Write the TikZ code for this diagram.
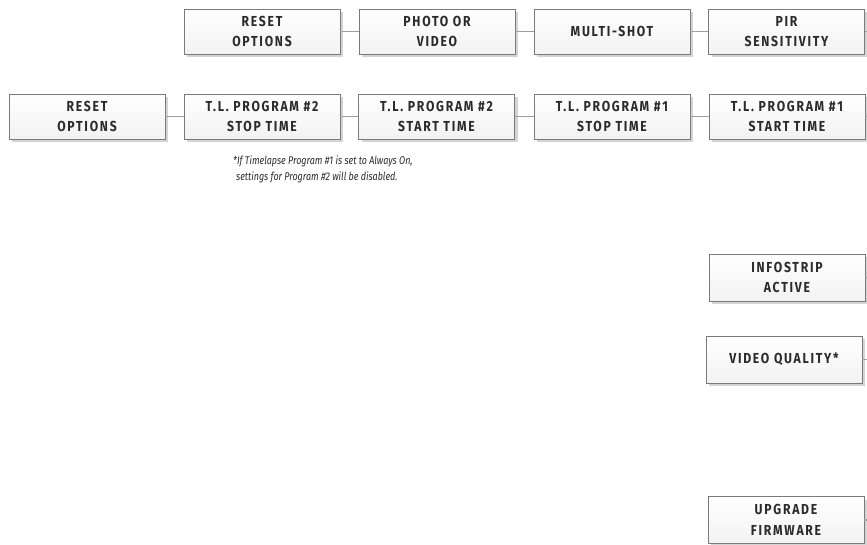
\documentclass[tikz,border=0pt]{standalone}
\usepackage{fontspec}
\usetikzlibrary{shadows}
\newfontfamily\boxfont[FakeStretch=0.84, LetterSpace=12]{Fira Sans}
\newfontfamily\notefont[FakeStretch=0.8]{Fira Sans}
\definecolor{txtc}{HTML}{2B2B2B}
\definecolor{bordc}{HTML}{7A7A7A}
\definecolor{connc}{HTML}{9E9E9E}
\definecolor{shadc}{HTML}{D4D4D4}
\tikzset{
  menubox/.style={draw=bordc, line width=0.8pt, top color=white, bottom color=black!5,
    minimum width=156pt, minimum height=45pt, inner sep=0pt, align=center,
    text=txtc, font=\boxfont\bfseries\fontsize{14.5}{20.5}\selectfont,
    drop shadow={shadow xshift=3pt, shadow yshift=-3pt, fill=shadc, opacity=1}},
  conn/.style={draw=connc, line width=1.3pt},
  note/.style={align=left, text=txtc, inner sep=0pt, font=\notefont\itshape\fontsize{11.2}{16}\selectfont}
}
\begin{document}
\begin{tikzpicture}[x=1pt, y=-1pt]
\useasboundingbox (0,0) rectangle (867,544);
\coordinate (E) at (867,0);
% row 1
\node[menubox] (r1a) at (262,31.5) {RESET\\OPTIONS};
\node[menubox] (r1b) at (437,31.5) {PHOTO OR\\VIDEO};
\node[menubox] (r1c) at (612,31.5) {MULTI-SHOT};
\node[menubox] (r1d) at (786.5,31.5) {PIR\\SENSITIVITY};
% row 2
\node[menubox] (r2a) at (87,116.5) {RESET\\OPTIONS};
\node[menubox] (r2b) at (262,116.5) {T.L. PROGRAM \#2\\STOP TIME};
\node[menubox] (r2c) at (436.5,116.5) {T.L. PROGRAM \#2\\START TIME};
\node[menubox] (r2d) at (612,116.5) {T.L. PROGRAM \#1\\STOP TIME};
\node[menubox] (r2e) at (787,116.5) {T.L. PROGRAM \#1\\START TIME};
% note
\node[note, anchor=north west] (nt) at (233,155.5) {*If Timelapse Program \#1 is set to Always On,\\\hspace{3pt}settings for Program \#2 will be disabled.};
% right column
\node[menubox, minimum height=47pt] (info) at (787,277.5) {INFOSTRIP\\ACTIVE};
\node[menubox, minimum height=47pt] (vq) at (784,359.5) {VIDEO QUALITY*};
\node[menubox, minimum height=47pt] (fw) at (786,520) {UPGRADE\\FIRMWARE};
% connectors
\draw[conn] (r1a) -- (r1b);
\draw[conn] (r1b) -- (r1c);
\draw[conn] (r1c) -- (r1d);
\draw[conn] (r1d.east) -- (r1d.east -| E);
\draw[conn] (r2a) -- (r2b);
\draw[conn] (r2b) -- (r2c);
\draw[conn] (r2c) -- (r2d);
\draw[conn] (r2d) -- (r2e);
\draw[conn] (r2e.east) -- (r2e.east -| E);
\draw[conn] (info.east) -- (info.east -| E);
\draw[conn] (vq.east) -- (vq.east -| E);
\draw[conn] (fw.east) -- (fw.east -| E);
\end{tikzpicture}
\end{document}
